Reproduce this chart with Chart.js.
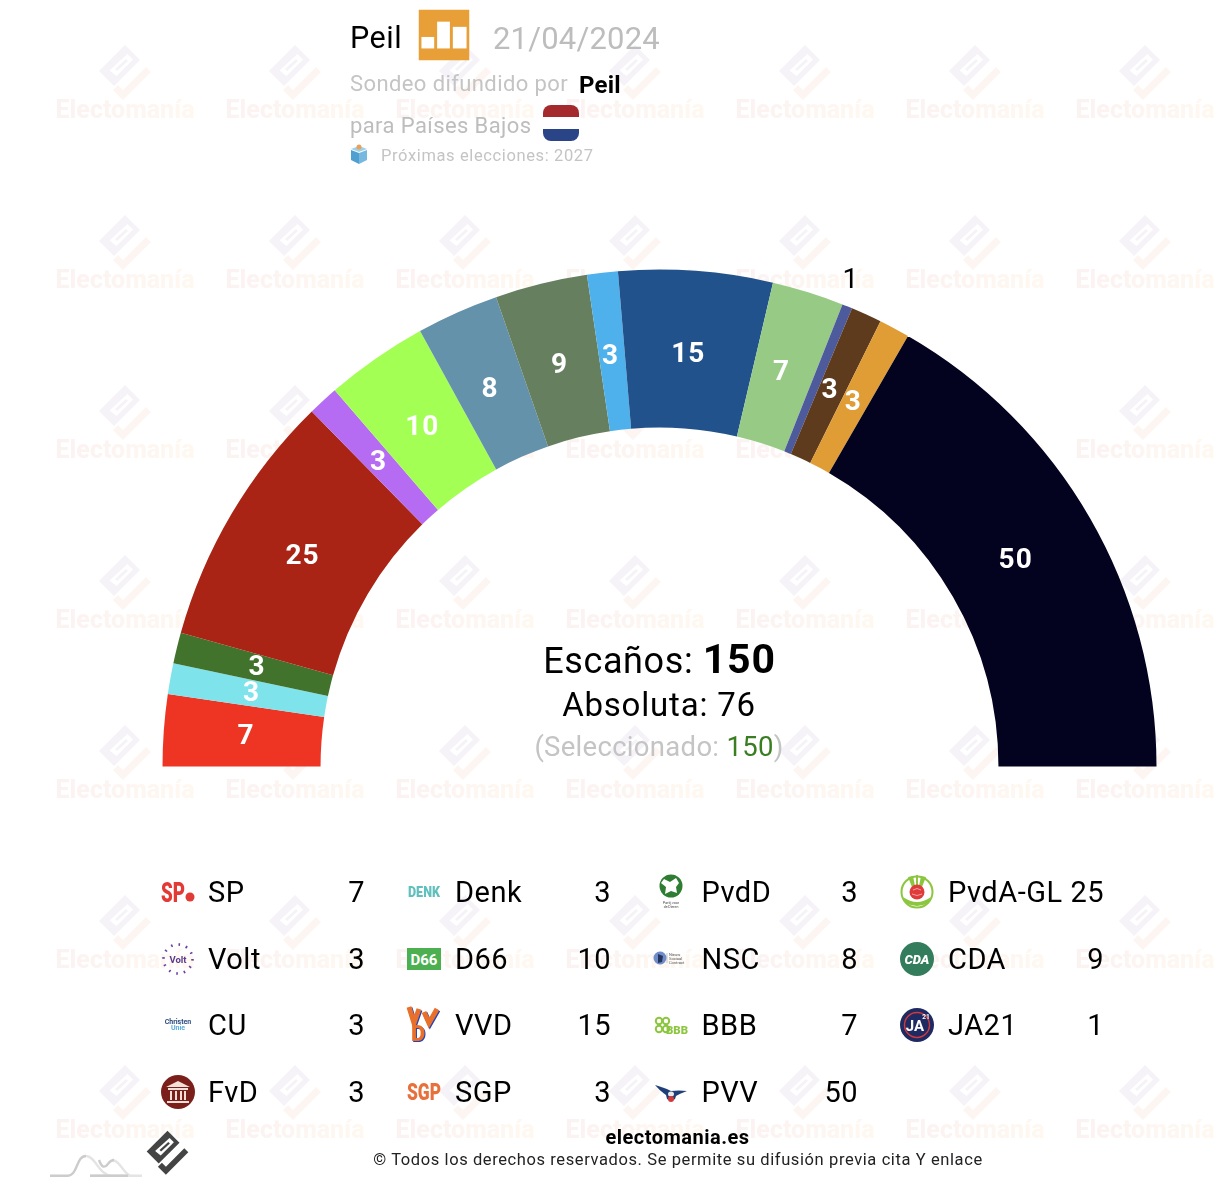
<!DOCTYPE html>
<html lang="es">
<head>
<meta charset="utf-8">
<title>Peil 21/04/2024</title>
<script src="https://cdn.jsdelivr.net/npm/chart.js@4"></script>
<style>
	html, body { margin: 0; padding: 0; background: #fff; }
	body { position: relative; width: 1218px; height: 1186px; overflow: hidden; font-family: Roboto, sans-serif; }
	canvas { position: absolute; left: 0; top: 0; }
	.t { position: absolute; white-space: nowrap; line-height: 1; transform: translateY(-50%); }
	.c { transform: translate(-50%, -50%); }
	.r { transform: translate(-100%, -50%); }
	.logo { position: absolute; width: 52px; height: 52px; transform: translate(-50%, -50%); }
</style>
</head>
<body>
<canvas id="myChart" width="1218" height="1186"></canvas>
<div id="overlay"></div>
<script>
const parties = ["SP", "Denk", "PvdD", "PvdA-GL", "Volt", "D66", "NSC", "CDA", "CU", "VVD", "BBB", "JA21", "FvD", "SGP", "PVV"];
const seats = [7, 3, 3, 25, 3, 10, 8, 9, 3, 15, 7, 1, 3, 3, 50];
const colors = ["#EE3524", "#7FE3EC", "#42732C", "#AA2416", "#B56CF3", "#A4FF55", "#6492AB", "#667F5E", "#4FB1EC", "#22528C", "#97CB85", "#4D5A9C", "#5E3B1C", "#E09C35", "#04031F"];

const totalSeats = 150;
const majority = 76;
const selected = 150;

// Small hand drawn versions of the party logos, same order as parties.
const logos = [
	`<text x="9" y="36" font-size="28" font-weight="900" fill="#e23a35" textLength="24" lengthAdjust="spacingAndGlyphs">SP</text><circle cx="38" cy="31" r="4.5" fill="#e23a35"/>`,
	`<text x="26" y="31" text-anchor="middle" font-size="14" font-weight="900" fill="#5fc0bd" textLength="32" lengthAdjust="spacingAndGlyphs">DENK</text>`,
	`<circle cx="26" cy="20" r="11.5" fill="#2f7d32"/><path d="M19 13l6 3 6-4 3 5-3 4 1 6-6-2-6 3 1-7-5-4z" fill="#fff"/><text x="26" y="38" text-anchor="middle" font-size="3.5" fill="#444">Partij voor</text><text x="26" y="42" text-anchor="middle" font-size="3.5" fill="#444">de Dieren</text>`,
	`<circle cx="26" cy="26" r="15.5" fill="#fff" stroke="#8cc63f" stroke-width="2"/><path d="M12 31q14 10 28 0l-3 6q-11 6-22 0z" fill="#8cc63f"/><path d="M17 11l4 10 3-1-2-10zM35 11l-4 10-3-1 2-10zM25 9h2v10h-2z" fill="#8cc63f"/><circle cx="26" cy="26" r="7.5" fill="#e03b3b"/><path d="M22 24q4-3 8 0M21 28q5 3 10 0" fill="none" stroke="#f4a0a0" stroke-width="1"/>`,
	`<circle cx="26" cy="26" r="14.5" fill="none" stroke="#6b3fa0" stroke-width="2.6" stroke-dasharray="1.6 6"/><text x="26" y="29.5" text-anchor="middle" font-size="9.5" font-weight="700" fill="#5b3a8c">Volt</text>`,
	`<rect x="9" y="15" width="34" height="22" fill="#4caf50"/><text x="26" y="31.5" text-anchor="middle" font-size="15" font-weight="700" fill="#fff">D66</text>`,
	`<circle cx="15" cy="25" r="6.5" fill="#6f8cc9"/><path d="M13 21l5 2-1 6-4 1z" fill="#24345e"/><path d="M22 20v10" stroke="#999" stroke-width=".5"/><text x="24" y="23" font-size="4" fill="#555">Nieuw</text><text x="24" y="27" font-size="4" fill="#555">Sociaal</text><text x="24" y="31" font-size="4" fill="#555">Contract</text>`,
	`<circle cx="26" cy="26" r="17" fill="#337c5c"/><text x="26" y="31" text-anchor="middle" font-size="13" font-weight="900" font-style="italic" fill="#fff">CDA</text>`,
	`<text x="26" y="25" text-anchor="middle" font-size="7" font-weight="700" fill="#2c4a80">Christen</text><text x="26" y="31" text-anchor="middle" font-size="7" font-weight="700" fill="#5aade0">Unie</text>`,
	`<path d="M12 9l5 16 5-14M27 14l5 11 8-14" fill="none" stroke="#2244bb" stroke-width="5"/><path d="M11 8l5 16 5-14M26 13l5 11 8-14" fill="none" stroke="#e8702a" stroke-width="5"/><text x="14" y="43" font-size="22" font-weight="900" fill="#2244bb">D</text><text x="13" y="42" font-size="22" font-weight="900" fill="#e8702a">D</text>`,
	`<circle cx="14" cy="22" r="3.2" fill="none" stroke="#8cc63f" stroke-width="2"/><circle cx="21" cy="22" r="3.2" fill="none" stroke="#8cc63f" stroke-width="2"/><circle cx="14" cy="30" r="3.2" fill="none" stroke="#8cc63f" stroke-width="2"/><circle cx="21" cy="30" r="3.2" fill="none" stroke="#8cc63f" stroke-width="2"/><text x="21" y="34.5" font-size="10.5" font-weight="900" fill="#8cc63f" textLength="22" lengthAdjust="spacingAndGlyphs">BBB</text>`,
	`<circle cx="26" cy="26" r="17" fill="#1f2a63"/><circle cx="26" cy="26" r="12.5" fill="none" stroke="#d23a3a" stroke-width="1.4"/><text x="24" y="32" text-anchor="middle" font-size="15" font-weight="700" fill="#fff">JA</text><text x="35" y="20" text-anchor="middle" font-size="6.5" font-weight="700" fill="#fff">21</text>`,
	`<circle cx="26" cy="26" r="17" fill="#7a1f1a"/><path d="M14 21l12-6 12 6zM16 22h20v2H16zM15 35h22v2H15z" fill="#f0e0d8"/><path d="M18 25h2v9h-2zM23 25h2v9h-2zM28 25h2v9h-2zM32 25h2v9h-2z" fill="#f0e0d8"/>`,
	`<text x="26" y="34" text-anchor="middle" font-size="24" font-weight="900" fill="#e8703a" textLength="34" lengthAdjust="spacingAndGlyphs">SGP</text>`,
	`<path d="M10 19Q20 22 26 25Q34 24 42 25Q34 28 31 30L30 33Q26 36 22 33L21 29Q15 25 10 19z" fill="#1f3f78"/><ellipse cx="26" cy="28" rx="3" ry="2.5" fill="#e8e8e8"/><circle cx="26" cy="33" r="3" fill="#d23a3a"/>`
];

const legendCols = [
	{logo: 178, name: 208, value: 365},
	{logo: 424, name: 455, value: 611},
	{logo: 671, name: 701.5, value: 858},
	{logo: 917, name: 948, value: 1104}
];
const legendRows = [892, 959, 1025, 1092];

function addText(text, x, y, size, style = {}, cls = "") {
	const el = document.createElement("div");
	el.className = "t " + cls;
	el.style.left = x + "px";
	el.style.top = y + "px";
	el.style.fontSize = size + "px";
	Object.assign(el.style, style);
	el.innerHTML = text;
	document.getElementById("overlay").appendChild(el);
}

function addLogo(svg, x, y, size = 52) {
	const el = document.createElementNS("http://www.w3.org/2000/svg", "svg");
	el.setAttribute("viewBox", "0 0 52 52");
	el.setAttribute("class", "logo");
	el.style.left = x + "px";
	el.style.top = y + "px";
	el.style.width = size + "px";
	el.style.height = size + "px";
	el.style.fontFamily = "Roboto";
	el.innerHTML = svg;
	document.getElementById("overlay").appendChild(el);
}

function buildHeader() {
	addText("Peil", 350, 38, 30.5, {color: "#000", letterSpacing: "0.5px"});
	addLogo(`<rect x="0" y="0" width="52" height="52" fill="#E89F37"/><rect x="3" y="28" width="13" height="11.7" fill="#fff"/><rect x="19" y="12.4" width="13" height="27.3" fill="#fff"/><rect x="35" y="17.7" width="14" height="22" fill="#fff"/>`, 443.5, 34.5, 51);
	addText("21/04/2024", 493, 38, 31, {color: "#bdbdbd", letterSpacing: "0.2px"});
	addText("Sondeo difundido por", 350, 84, 22, {color: "#c4c4c4", letterSpacing: "0.4px"});
	addText("Peil", 579, 85, 24, {color: "#000", fontWeight: 700, letterSpacing: "0.2px"});
	addText("para Países Bajos", 350, 126, 22, {color: "#bdbdbd", letterSpacing: "0.4px"});
	addLogo(`<clipPath id="flag"><rect x="0" y="0" width="36" height="36" rx="8"/></clipPath><g clip-path="url(#flag)"><rect width="36" height="12" fill="#a52a2e"/><rect y="12" width="36" height="12" fill="#fff"/><rect y="24" width="36" height="12" fill="#2a4488"/></g>`, 569, 131, 52);
	addLogo(`<path d="M9 5l8-3 8 3-8 3z" fill="#9fd0ea"/><path d="M9 6v10l8 4V9z" fill="#4f9fd0"/><path d="M25 6v10l-8 4V9z" fill="#76b8de"/><circle cx="17" cy="3" r="2.5" fill="#e8a05a"/>`, 368, 170, 52);
	addText("Próximas elecciones: 2027", 381, 155.5, 16.5, {color: "#c4c4c4", letterSpacing: "0.62px"});
}

function buildCenter() {
	addText(`Escaños: <b style="font-size:41px;letter-spacing:.8px">${totalSeats}</b>`, 659.5, 659, 36, {color: "#000", letterSpacing: "0.6px"}, "c");
	addText(`Absoluta: ${majority}`, 659, 703.5, 33, {color: "#000", letterSpacing: "0.8px"}, "c");
	addText(`(Seleccionado: <span style="color:#3a7d22">${selected}</span>)`, 659, 747, 27.5, {color: "#c4c4c4", letterSpacing: "0.3px"}, "c");
}

function buildLegend() {
	parties.forEach((party, i) => {
		const col = legendCols[i % 4];
		const y = legendRows[Math.floor(i / 4)];
		addLogo(logos[i], col.logo, y);
		addText(party, col.name, y, 29, {color: "#000", letterSpacing: "0.5px"});
		addText(seats[i], col.value, y, 29, {color: "#000", letterSpacing: "0.5px"}, "r");
	});
}

function buildFooter() {
	addText("electomania.es", 677.5, 1137, 20, {color: "#000", fontWeight: 700, letterSpacing: "0.5px"}, "c");
	addText("© Todos los derechos reservados. Se permite su difusión previa cita Y enlace", 678, 1159.5, 16.5, {color: "#222", letterSpacing: "0.6px"}, "c");
}

function drawMark(ctx, cx, cy, scale, bodyColor, barColor) {
	const poly = (points, color) => {
		ctx.fillStyle = color;
		ctx.beginPath();
		points.forEach(([x, y], i) => i ? ctx.lineTo(cx + x * scale, cy + y * scale) : ctx.moveTo(cx + x * scale, cy + y * scale));
		ctx.closePath();
		ctx.fill();
	};
	poly([[0, -25], [15, -10], [-11, 16], [-26, 1]], bodyColor);
	poly([[2.5, -16], [8, -10.5], [-8.5, 6], [-15.5, 0.5]], "#fff");
	poly([[1, -11], [3, -9], [-8, 1], [-10, -1]], bodyColor);
	poly([[-12, 20], [-2, 30], [26, 2], [21, -3], [-2, 20], [-7, 15]], barColor);
}

const watermark = {
	id: "watermark",
	beforeDatasetsDraw(chart) {
		const ctx = chart.ctx;
		ctx.save();
		ctx.font = "800 25px Roboto";
		ctx.textAlign = "center";
		ctx.textBaseline = "middle";
		for (let row = 0; row < 7; row++) {
			for (let col = 0; col < 7; col++) {
				const x = 125 + col * 170;
				const y = 70 + row * 170;
				drawMark(ctx, x, y, 1, "#f5f2f8", "#fcf5f1");
				const grad = ctx.createLinearGradient(x - 69, 0, x + 69, 0);
				grad.addColorStop(0, "#fbf2f2");
				grad.addColorStop(1, "#fff8f0");
				ctx.fillStyle = grad;
				ctx.fillText("Electomanía", x, y + 42);
			}
		}
		// footer mark and hills
		drawMark(ctx, 167.5, 1150.7, 0.8, "#444", "#444");
		ctx.lineWidth = 2.4;
		ctx.strokeStyle = "#e4e4e4";
		ctx.beginPath();
		ctx.moveTo(90, 1175.7);
		ctx.lineTo(142, 1175.7);
		ctx.moveTo(86, 1156);
		ctx.bezierCurveTo(96, 1156, 98, 1175, 112, 1175.7);
		ctx.moveTo(112, 1160);
		ctx.bezierCurveTo(120, 1160, 122, 1172, 130, 1175.5);
		ctx.stroke();
		ctx.strokeStyle = "#cccccc";
		ctx.beginPath();
		ctx.moveTo(50, 1175.7);
		ctx.lineTo(68, 1175.7);
		ctx.bezierCurveTo(78, 1175, 76, 1156, 86, 1156);
		ctx.moveTo(90, 1175.7);
		ctx.lineTo(128, 1175.7);
		ctx.moveTo(99, 1160);
		ctx.bezierCurveTo(102, 1168, 104, 1167, 106, 1166);
		ctx.bezierCurveTo(109, 1163, 110, 1160, 114, 1160);
		ctx.stroke();
		ctx.restore();
	}
};

const sliceLabels = {
	id: "sliceLabels",
	afterDatasetsDraw(chart) {
		const ctx = chart.ctx;
		const meta = chart.getDatasetMeta(0);
		ctx.save();
		ctx.textAlign = "center";
		ctx.textBaseline = "middle";
		ctx.letterSpacing = "1px";
		meta.data.forEach((arc, i) => {
			const angle = (arc.startAngle + arc.endAngle) / 2;
			const small = seats[i] < 2;
			const r = small ? arc.outerRadius + 28 : 413;
			ctx.font = small ? "400 28px Roboto" : "700 28px Roboto";
			ctx.fillStyle = small ? "#000" : "#fff";
			ctx.fillText(seats[i], arc.x + (small ? -7 : -1.5) + r * Math.cos(angle), arc.y + 0.5 + r * Math.sin(angle));
		});
		ctx.restore();
	}
};

buildHeader();
buildCenter();
buildLegend();
buildFooter();

const ctx = document.getElementById("myChart").getContext("2d");
const myChart = new Chart(ctx, {
	type: "doughnut",
	data: {
		labels: parties,
		datasets: [{
			data: seats,
			backgroundColor: colors,
			borderWidth: 0
		}]
	},
	options: {
		responsive: false,
		animation: false,
		devicePixelRatio: 1,
		rotation: -90,
		circumference: 180,
		cutout: "68.2%",
		layout: {
			padding: {left: 162.5, right: 61.5, top: 269, bottom: 419}
		},
		plugins: {
			legend: {display: false},
			title: {display: false},
			tooltip: {enabled: false}
		}
	},
	plugins: [watermark, sliceLabels]
});
</script>
</body>
</html>
